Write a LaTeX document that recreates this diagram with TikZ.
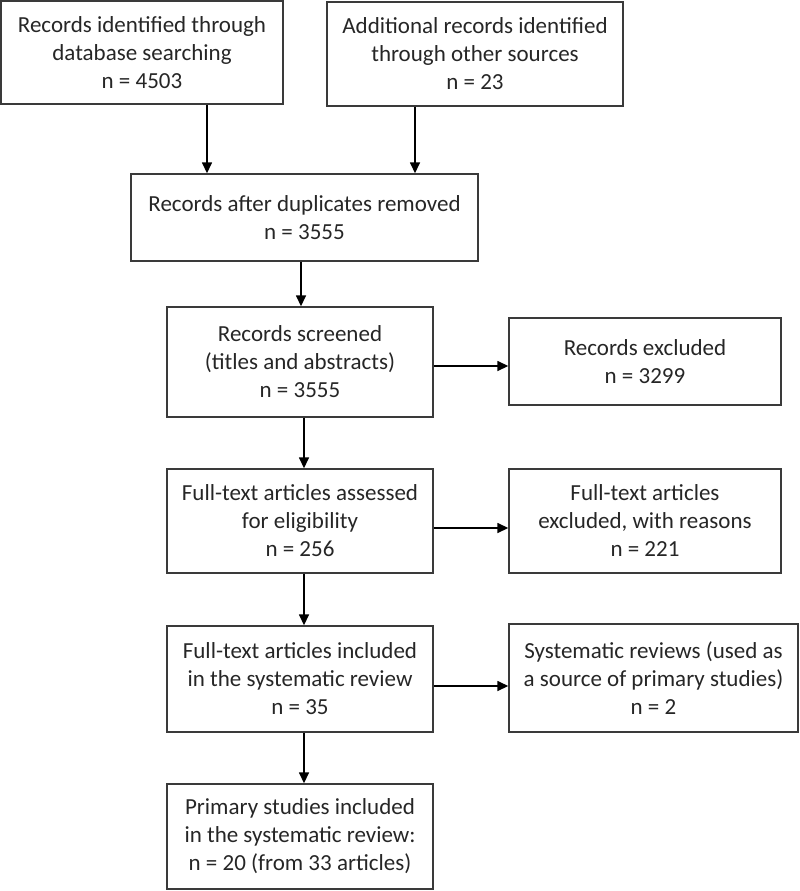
\documentclass[tikz,border=0pt]{standalone}
\usepackage{fontspec}
\setmainfont{Carlito}
\usetikzlibrary{arrows.meta}
\definecolor{boxline}{HTML}{3A3A3A}
\tikzset{
  flowbox/.style={draw=boxline, line width=1.4pt, inner sep=0pt, align=center,
    font=\fontsize{23}{28}\selectfont, text=black!85},
  flowarrow/.style={draw=black, line width=1.5pt, -{Triangle[length=11pt,width=10pt]}}
}
\begin{document}
\begin{tikzpicture}[x=1pt,y=-1pt]
\useasboundingbox (0,0) rectangle (800,891);
\node[flowbox, minimum width=282pt, minimum height=103pt] (b1) at (142,52.5)
  {Records identified through\\database searching\\n = 4503};
\node[flowbox, minimum width=296pt, minimum height=104pt] (b2) at (475,54)
  {Additional records identified\\through other sources\\n = 23};
\node[flowbox, minimum width=347pt, minimum height=87pt] (b3) at (304.5,217.5)
  {Records after duplicates removed\\n = 3555};
\node[flowbox, minimum width=266pt, minimum height=110pt] (b4) at (300,362)
  {Records screened\\(titles and abstracts)\\n = 3555};
\node[flowbox, minimum width=272pt, minimum height=87pt] (b5) at (645,361.5)
  {Records excluded\\n = 3299};
\node[flowbox, minimum width=266pt, minimum height=104pt] (b6) at (300,521)
  {Full-text articles assessed\\for eligibility\\n = 256};
\node[flowbox, minimum width=272pt, minimum height=104pt] (b7) at (645,521)
  {Full-text articles\\excluded, with reasons\\n = 221};
\node[flowbox, minimum width=266pt, minimum height=106pt] (b8) at (300,679)
  {Full-text articles included\\in the systematic review\\n = 35};
\node[flowbox, minimum width=289pt, minimum height=108pt] (b9) at (653.5,678)
  {Systematic reviews (used as\\a source of primary studies)\\n = 2};
\node[flowbox, minimum width=266pt, minimum height=105pt] (b10) at (300,836.5)
  {Primary studies included\\in the systematic review:\\n = 20 (from 33 articles)};
% vertical arrows
\draw[flowarrow] ([xshift=65pt]b1.south) -- ([xshift=65pt]b1.south |- b3.north);
\draw[flowarrow] ([xshift=-60pt]b2.south) -- ([xshift=-60pt]b2.south |- b3.north);
\draw[flowarrow] ([xshift=-3.5pt]b3.south) -- ([xshift=-3.5pt]b3.south |- b4.north);
\draw[flowarrow] ([xshift=4pt]b4.south) -- ([xshift=4pt]b4.south |- b6.north);
\draw[flowarrow] ([xshift=4pt]b6.south) -- ([xshift=4pt]b6.south |- b8.north);
\draw[flowarrow] ([xshift=4pt]b8.south) -- ([xshift=4pt]b8.south |- b10.north);
% horizontal arrows
\draw[flowarrow] ([yshift=-4pt]b4.east) -- ([yshift=-4pt]b4.east -| b5.west);
\draw[flowarrow] ([yshift=-7pt]b6.east) -- ([yshift=-7pt]b6.east -| b7.west);
\draw[flowarrow] ([yshift=-7pt]b8.east) -- ([yshift=-7pt]b8.east -| b9.west);
\end{tikzpicture}
\end{document}
